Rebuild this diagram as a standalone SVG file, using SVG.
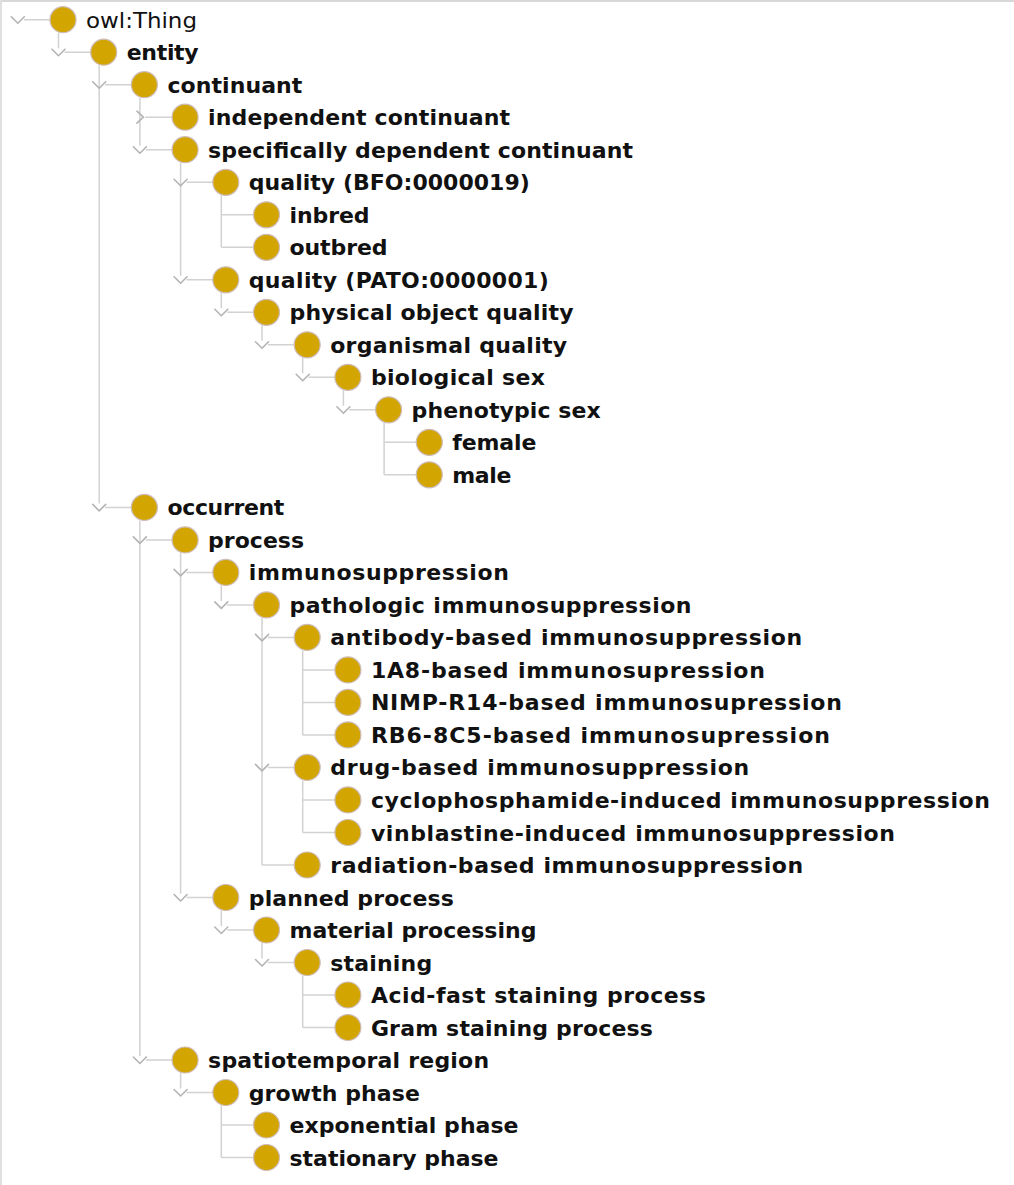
<svg xmlns="http://www.w3.org/2000/svg" xmlns:xlink="http://www.w3.org/1999/xlink" width="1014" height="1185" viewBox="0 0 1014 1185">
<style>
.ln{stroke:#d2d2d2;stroke-width:1.5;fill:none}
.chev{stroke:#b4b4b4;stroke-width:1.6;fill:none;stroke-linecap:round;stroke-linejoin:round}
.dot{fill:#d2a500;stroke:#cdbcb8;stroke-width:1.2}
.lbl{font-family:"DejaVu Sans","Liberation Sans",sans-serif;font-size:22px;font-weight:bold;fill:#111}
.root{font-weight:normal}
</style>
<defs>
<path id="cv" class="chev" d="M-6.5,-3 L0,3.5 L6.5,-3"/>
<path id="cc" class="chev" d="M-3,-6 L3.5,0 L-3,6"/>
</defs>
<rect x="0" y="0" width="1014" height="1185" fill="#ffffff"/>
<rect x="0" y="0" width="1014" height="2" fill="#d8d8d8"/>
<rect x="0" y="0" width="2" height="1185" fill="#e0e0e0"/>
<g id="connectors">
<path class="ln" d="M58.5,32.7V48.2 M99.2,65.2V503.4 M139.9,97.7V145.7 M180.6,162.7V275.8 M221.3,195.3V247.3 M221.3,292.8V308.3 M262,325.3V340.8 M302.7,357.8V373.3 M343.4,390.3V405.8 M384.1,422.8V474.8 M139.9,520.4V1056 M180.6,552.9V893.5 M221.3,585.4V600.9 M262,617.9V865 M302.7,650.4V734.9 M302.7,780.4V832.5 M221.3,910.5V926 M262,943V958.5 M302.7,975.5V1027.5 M180.6,1073V1088.5 M221.3,1105.5V1157.5"/>
<path class="ln" d="M24,19.7H50 M64.5,52.2H90.7 M105.2,84.7H131.4 M145,117.2H172.1 M145.9,149.7H172.1 M186.6,182.3H212.8 M221.3,214.8H253.5 M221.3,247.3H253.5 M186.6,279.8H212.8 M227.3,312.3H253.5 M268,344.8H294.2 M308.7,377.3H334.9 M349.4,409.8H375.6 M384.1,442.3H416.3 M384.1,474.8H416.3 M105.2,507.4H131.4 M145.9,539.9H172.1 M186.6,572.4H212.8 M227.3,604.9H253.5 M268,637.4H294.2 M302.7,669.9H334.9 M302.7,702.4H334.9 M302.7,734.9H334.9 M268,767.4H294.2 M302.7,799.9H334.9 M302.7,832.5H334.9 M262,865H294.2 M186.6,897.5H212.8 M227.3,930H253.5 M268,962.5H294.2 M302.7,995H334.9 M302.7,1027.5H334.9 M145.9,1060H172.1 M186.6,1092.5H212.8 M221.3,1125H253.5 M221.3,1157.5H253.5"/>
<use href="#cv" x="17.8" y="19.7"/>
<use href="#cv" x="58.5" y="52.2"/>
<use href="#cv" x="99.2" y="84.7"/>
<use href="#cc" x="139.9" y="117.2"/>
<use href="#cv" x="139.9" y="149.7"/>
<use href="#cv" x="180.6" y="182.3"/>
<use href="#cv" x="180.6" y="279.8"/>
<use href="#cv" x="221.3" y="312.3"/>
<use href="#cv" x="262" y="344.8"/>
<use href="#cv" x="302.7" y="377.3"/>
<use href="#cv" x="343.4" y="409.8"/>
<use href="#cv" x="99.2" y="507.4"/>
<use href="#cv" x="139.9" y="539.9"/>
<use href="#cv" x="180.6" y="572.4"/>
<use href="#cv" x="221.3" y="604.9"/>
<use href="#cv" x="262" y="637.4"/>
<use href="#cv" x="262" y="767.4"/>
<use href="#cv" x="180.6" y="897.5"/>
<use href="#cv" x="221.3" y="930"/>
<use href="#cv" x="262" y="962.5"/>
<use href="#cv" x="139.9" y="1060"/>
<use href="#cv" x="180.6" y="1092.5"/>
</g>
<g id="n-owl-thing" transform="translate(63,19.7)"><circle class="dot" r="13"/><text class="lbl root" x="23" y="8" textLength="111" lengthAdjust="spacingAndGlyphs">owl:Thing</text></g>
<g id="n-entity" transform="translate(103.7,52.2)"><circle class="dot" r="13"/><text class="lbl" x="23" y="8" textLength="72">entity</text></g>
<g id="n-continuant" transform="translate(144.4,84.7)"><circle class="dot" r="13"/><text class="lbl" x="23" y="8" textLength="135">continuant</text></g>
<g id="n-independent-continuant" transform="translate(185.1,117.2)"><circle class="dot" r="13"/><text class="lbl" x="23" y="8" textLength="302">independent continuant</text></g>
<g id="n-specifically-dependent-continuant" transform="translate(185.1,149.7)"><circle class="dot" r="13"/><text class="lbl" x="23" y="8" textLength="425">specifically dependent continuant</text></g>
<g id="n-quality-bfo" transform="translate(225.8,182.3)"><circle class="dot" r="13"/><text class="lbl" x="23" y="8" textLength="281">quality (BFO:0000019)</text></g>
<g id="n-inbred" transform="translate(266.5,214.8)"><circle class="dot" r="13"/><text class="lbl" x="23" y="8" textLength="80">inbred</text></g>
<g id="n-outbred" transform="translate(266.5,247.3)"><circle class="dot" r="13"/><text class="lbl" x="23" y="8" textLength="98">outbred</text></g>
<g id="n-quality-pato" transform="translate(225.8,279.8)"><circle class="dot" r="13"/><text class="lbl" x="23" y="8" textLength="300">quality (PATO:0000001)</text></g>
<g id="n-physical-object-quality" transform="translate(266.5,312.3)"><circle class="dot" r="13"/><text class="lbl" x="23" y="8" textLength="284">physical object quality</text></g>
<g id="n-organismal-quality" transform="translate(307.2,344.8)"><circle class="dot" r="13"/><text class="lbl" x="23" y="8" textLength="237">organismal quality</text></g>
<g id="n-biological-sex" transform="translate(347.9,377.3)"><circle class="dot" r="13"/><text class="lbl" x="23" y="8" textLength="174">biological sex</text></g>
<g id="n-phenotypic-sex" transform="translate(388.6,409.8)"><circle class="dot" r="13"/><text class="lbl" x="23" y="8" textLength="189">phenotypic sex</text></g>
<g id="n-female" transform="translate(429.3,442.3)"><circle class="dot" r="13"/><text class="lbl" x="23" y="8" textLength="84">female</text></g>
<g id="n-male" transform="translate(429.3,474.8)"><circle class="dot" r="13"/><text class="lbl" x="23" y="8" textLength="59">male</text></g>
<g id="n-occurrent" transform="translate(144.4,507.4)"><circle class="dot" r="13"/><text class="lbl" x="23" y="8" textLength="117">occurrent</text></g>
<g id="n-process" transform="translate(185.1,539.9)"><circle class="dot" r="13"/><text class="lbl" x="23" y="8" textLength="96">process</text></g>
<g id="n-immunosuppression" transform="translate(225.8,572.4)"><circle class="dot" r="13"/><text class="lbl" x="23" y="8" textLength="260">immunosuppression</text></g>
<g id="n-pathologic-immunosuppression" transform="translate(266.5,604.9)"><circle class="dot" r="13"/><text class="lbl" x="23" y="8" textLength="402">pathologic immunosuppression</text></g>
<g id="n-antibody-based" transform="translate(307.2,637.4)"><circle class="dot" r="13"/><text class="lbl" x="23" y="8" textLength="472">antibody-based immunosuppression</text></g>
<g id="n-1a8" transform="translate(347.9,669.9)"><circle class="dot" r="13"/><text class="lbl" x="23" y="8" textLength="394">1A8-based immunosupression</text></g>
<g id="n-nimp" transform="translate(347.9,702.4)"><circle class="dot" r="13"/><text class="lbl" x="23" y="8" textLength="471">NIMP-R14-based immunosupression</text></g>
<g id="n-rb6" transform="translate(347.9,734.9)"><circle class="dot" r="13"/><text class="lbl" x="23" y="8" textLength="459">RB6-8C5-based immunosupression</text></g>
<g id="n-drug-based" transform="translate(307.2,767.4)"><circle class="dot" r="13"/><text class="lbl" x="23" y="8" textLength="419">drug-based immunosuppression</text></g>
<g id="n-cyclophosphamide" transform="translate(347.9,799.9)"><circle class="dot" r="13"/><text class="lbl" x="23" y="8" textLength="619">cyclophosphamide-induced immunosuppression</text></g>
<g id="n-vinblastine" transform="translate(347.9,832.5)"><circle class="dot" r="13"/><text class="lbl" x="23" y="8" textLength="524">vinblastine-induced immunosuppression</text></g>
<g id="n-radiation-based" transform="translate(307.2,865)"><circle class="dot" r="13"/><text class="lbl" x="23" y="8" textLength="473">radiation-based immunosuppression</text></g>
<g id="n-planned-process" transform="translate(225.8,897.5)"><circle class="dot" r="13"/><text class="lbl" x="23" y="8" textLength="205">planned process</text></g>
<g id="n-material-processing" transform="translate(266.5,930)"><circle class="dot" r="13"/><text class="lbl" x="23" y="8" textLength="247">material processing</text></g>
<g id="n-staining" transform="translate(307.2,962.5)"><circle class="dot" r="13"/><text class="lbl" x="23" y="8" textLength="102">staining</text></g>
<g id="n-acid-fast" transform="translate(347.9,995)"><circle class="dot" r="13"/><text class="lbl" x="23" y="8" textLength="335">Acid-fast staining process</text></g>
<g id="n-gram" transform="translate(347.9,1027.5)"><circle class="dot" r="13"/><text class="lbl" x="23" y="8" textLength="282">Gram staining process</text></g>
<g id="n-spatiotemporal-region" transform="translate(185.1,1060)"><circle class="dot" r="13"/><text class="lbl" x="23" y="8" textLength="281">spatiotemporal region</text></g>
<g id="n-growth-phase" transform="translate(225.8,1092.5)"><circle class="dot" r="13"/><text class="lbl" x="23" y="8" textLength="171">growth phase</text></g>
<g id="n-exponential-phase" transform="translate(266.5,1125)"><circle class="dot" r="13"/><text class="lbl" x="23" y="8" textLength="229">exponential phase</text></g>
<g id="n-stationary-phase" transform="translate(266.5,1157.5)"><circle class="dot" r="13"/><text class="lbl" x="23" y="8" textLength="209">stationary phase</text></g>
</svg>
